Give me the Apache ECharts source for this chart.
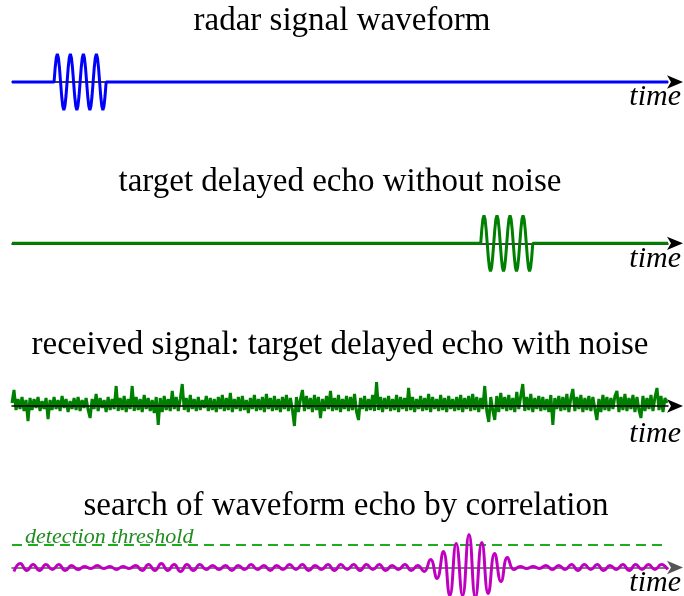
<!DOCTYPE html>
<html><head><meta charset="utf-8">
<script src="https://cdn.jsdelivr.net/npm/echarts@6/dist/echarts.min.js"></script>
<style>html,body{margin:0;padding:0;background:#fff}#c{width:684px;height:596px}</style>
</head><body><div id="c"></div>
<script>
// ---- text ----
const panelTitles = [
  'radar signal waveform',
  'target delayed echo without noise',
  'received signal: target delayed echo with noise',
  'search of waveform echo by correlation'
];
const axisLabel = 'time';
const thresholdLabel = 'detection threshold';

// ---- data (time units ~ px, amplitude units ~ px) ----
const timeMax = 655;
// one pulse of 4 cycles, 12 samples per cycle
const pulseShape = [
  0, 14, 24.2, 28, 24.2, 14, 0, -14, -24.2, -28, -24.2, -14,
  0, 14, 24.2, 28, 24.2, 14, 0, -14, -24.2, -28, -24.2, -14,
  0, 14, 24.2, 28, 24.2, 14, 0, -14, -24.2, -28, -24.2, -14,
  0, 14, 24.2, 28, 24.2, 14, 0, -14, -24.2, -28, -24.2, -14,
  0
];
const pulseStep = 13 / 12;
const pulseStartTx = 42;     // transmitted pulse
const pulseStartEcho = 468;  // delayed echo

// received noisy signal, one sample every 2 time units
const noiseStep = 2;
const noise = [
  3, 16, -4, 7, -3, 9, -5, 6, -15, 8, -4, 7, -2, 9, -5, 5, -3, 8, -13, 6,
  -4, 9, -3, 6, -5, 10, -2, 7, -6, 5, -3, 8, -4, 9, -5, 6, -2, 8, -4, -12,
  7, -3, 12, -5, 8, -2, 6, -6, 9, -4, 7, -3, 20, -5, 8, -4, 10, -6, 7, -3,
  20, -5, 9, -4, 7, -6, 11, -3, 8, -5, 6, -7, 9, -19, 8, -6, 10, -4, 7, -5,
  15, -3, 9, -5, 7, 22, -4, 8, -6, 11, -3, 7, -5, 9, -4, 6, -2, 10, -5, 8,
  -4, 7, -6, 9, -3, 11, -5, 8, -4, 13, -6, 7, -3, 9, -5, 10, -4, 6, -7, 8,
  -3, 11, -5, 7, -4, 9, -6, 12, -3, 8, -5, 10, -4, 7, -6, 9, -3, 11, -5, 8,
  -4, -20, 9, -6, 7, 16, -5, 10, -3, 8, -6, 11, -4, 9, -12, 7, -5, 10, -3, 15,
  -5, 8, -4, 11, -6, 7, -3, 10, -5, 9, -4, 12, -6, -14, 8, -3, 10, -5, 7, -4,
  11, -5, 24, -4, 9, -6, 8, -3, 10, -5, 7, -4, 11, -6, 9, -3, 8, -5, 18, -4,
  9, -6, 7, -3, 10, -5, 8, -4, 12, -6, 9, -3, 7, -5, 11, -4, 8, -6, 10, -3,
  7, -5, 9, -4, 11, -6, 8, -3, 10, -5, 12, -4, 9, -6, 8, -3, 20, -5, -16, 9,
  -4, -14, 10, -6, 13, -3, 9, -5, 11, -4, 8, -6, 14, -3, 10, 22, -5, 9, -4, 12,
  -6, 8, -3, 10, -5, 9, -4, 7, -6, 11, -19, 8, -3, 10, -5, 9, -4, 12, -6, 8,
  17, -5, 9, -3, 11, -6, 8, -4, 10, -5, 9, -3, -14, 7, -6, 11, -4, 9, -5, 8,
  -3, 10, 15, -6, 9, -4, 12, -5, 8, -3, 11, -6, 9, -4, -12, 10, -5, 8, -3, 11,
  -5, 9, 18, -4, 10, -6, 8, 3
];

// correlation output, extrema every half period
const corrStart = 1.9;
const corrStep = 6.4;
const corr = [
  -4, 4, -3, 3, -3, 3, -2, 3, -3, 2,
  -2, 1, -1, 2, -1, 1, -2, 1, -1, 2,
  -3, 3, -3, 4, -3, 3, -4, 3, -3, 3,
  -2, 2, -2, 2, -3, 2, -2, 3, -2, 2,
  -3, 2, -2, 3, -2, 3, -3, 2, -2, 3,
  -3, 3, -2, 3, -3, 3, -2, 3, -3, 2,
  -2, 3, -3, 2, -4, 8, -11, 16, -28, 24,
  -28, 33, -30, 25, -26, 14, -14, 10, -2, 1,
  -1, 1, -1, 2, -2, 2, -2, 3, -3, 3,
  -2, 3, -3, 2, -2, 3, -3, 3, -2, 3,
  -2, 3, -2
];
const threshold = 22.5;

// ---- build series data ----
function pulseSeries(start) {
  const d = [[0, 0]];
  pulseShape.forEach((v, i) => d.push([start + i * pulseStep, v]));
  d.push([timeMax, 0]);
  return d;
}
const noiseData = noise.map((v, i) => [i * noiseStep, v]);
const corrData = corr.map((v, i) => [corrStart + i * corrStep, v]);
const thresholdData = [[0, threshold], [timeMax, threshold]];

const gridDefs = [
  { top: 52, height: 60, ymin: -30, ymax: 30, axisColor: '#000', axisZ: 0 },
  { top: 213.3, height: 60, ymin: -30, ymax: 30, axisColor: '#000', axisZ: 0 },
  { top: 376, height: 60, ymin: -30, ymax: 30, axisColor: '#000', axisZ: 5 },
  { top: 532.5, height: 70, ymin: -35, ymax: 35, axisColor: '#555', axisZ: 0 }
];

const chart = echarts.init(document.getElementById('c'), null, { renderer: 'canvas' });
const serif = '"Liberation Serif", "Times New Roman", serif';

const option = {
  animation: false,
  backgroundColor: '#fff',
  grid: gridDefs.map(g => ({ left: 12, right: 16, top: g.top, height: g.height, containLabel: false, outerBoundsMode: 'none' })),
  xAxis: gridDefs.map((g, i) => ({
    type: 'value', gridIndex: i, min: 0, max: timeMax, z: g.axisZ,
    axisLine: { show: true, onZero: true, symbol: ['none', 'arrow'], symbolSize: [10, 16], symbolOffset: [0, 15],
      lineStyle: { color: g.axisColor, width: 1.5 } },
    axisTick: { show: false }, axisLabel: { show: false }, splitLine: { show: false }
  })),
  yAxis: gridDefs.map((g, i) => ({
    type: 'value', gridIndex: i, min: g.ymin, max: g.ymax, show: false,
    axisLine: { show: false }, splitLine: { show: false }
  })),
  series: [
    { type: 'line', xAxisIndex: 0, yAxisIndex: 0, data: pulseSeries(pulseStartTx), showSymbol: false,
      lineStyle: { color: '#0000ff', width: 3 }, clip: false },
    { type: 'line', xAxisIndex: 1, yAxisIndex: 1, data: pulseSeries(pulseStartEcho), showSymbol: false,
      lineStyle: { color: '#008000', width: 3 }, clip: false },
    { type: 'line', xAxisIndex: 2, yAxisIndex: 2, data: noiseData, showSymbol: false,
      lineStyle: { color: '#008000', width: 3 }, clip: false },
    { type: 'line', xAxisIndex: 3, yAxisIndex: 3, data: thresholdData, showSymbol: false,
      lineStyle: { color: '#22aa22', width: 2, type: [10, 6] }, clip: false },
    { type: 'line', xAxisIndex: 3, yAxisIndex: 3, data: corrData, showSymbol: false, smooth: 0.5,
      lineStyle: { color: '#c000c0', width: 3 }, clip: false }
  ],
  graphic: [
    { type: 'text', x: 342, y: 21, style: { text: panelTitles[0], font: '33px ' + serif, fill: '#000', align: 'center', verticalAlign: 'middle' } },
    { type: 'text', x: 340, y: 182, style: { text: panelTitles[1], font: '33px ' + serif, fill: '#000', align: 'center', verticalAlign: 'middle' } },
    { type: 'text', x: 340, y: 345, style: { text: panelTitles[2], font: '33px ' + serif, fill: '#000', align: 'center', verticalAlign: 'middle' } },
    { type: 'text', x: 346, y: 506, style: { text: panelTitles[3], font: '33px ' + serif, fill: '#000', align: 'center', verticalAlign: 'middle' } },
    { type: 'text', x: 681, y: 97, style: { text: axisLabel, font: 'italic 30px ' + serif, fill: '#000', align: 'right', verticalAlign: 'middle' } },
    { type: 'text', x: 681, y: 259, style: { text: axisLabel, font: 'italic 30px ' + serif, fill: '#000', align: 'right', verticalAlign: 'middle' } },
    { type: 'text', x: 681, y: 434, style: { text: axisLabel, font: 'italic 30px ' + serif, fill: '#000', align: 'right', verticalAlign: 'middle' } },
    { type: 'text', x: 681, y: 583, style: { text: axisLabel, font: 'italic 30px ' + serif, fill: '#000', align: 'right', verticalAlign: 'middle' } },
    { type: 'text', x: 25, y: 537, z: 10, style: { text: thresholdLabel, font: 'italic 22px ' + serif, fill: '#1e8c1e', align: 'left', verticalAlign: 'middle' } }
  ]
};
chart.setOption(option);
</script>
</body></html>
